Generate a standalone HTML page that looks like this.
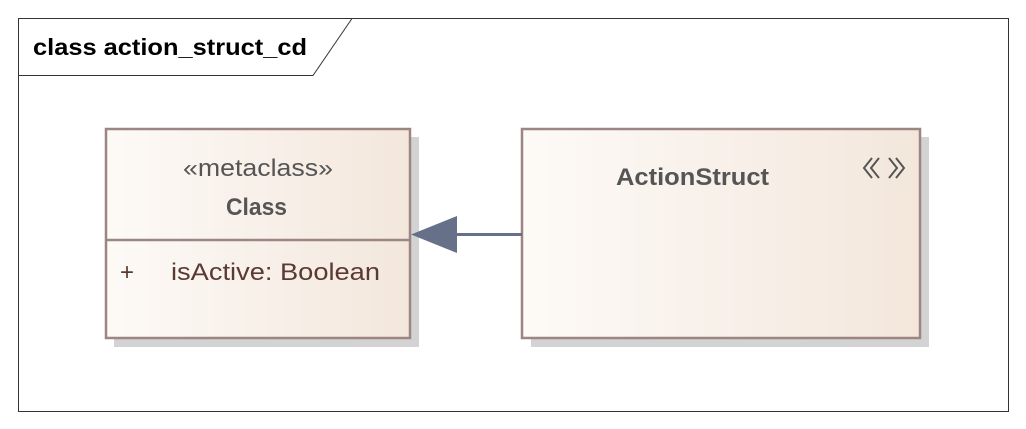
<!DOCTYPE html>
<html><head><meta charset="utf-8"><style>
body{margin:0;background:#fff;width:1026px;height:429px;overflow:hidden}
svg{display:block}
text{font-family:"Liberation Sans",sans-serif}
</style></head><body>
<svg width="1026" height="429" viewBox="0 0 1026 429">
<defs>
<linearGradient id="g" x1="0" x2="1" y1="0" y2="0">
<stop offset="0" stop-color="#fdfaf7"/><stop offset="1" stop-color="#f3e7dc"/>
</linearGradient>
</defs>
<rect x="18.5" y="18.5" width="990" height="393" fill="#fff" stroke="#333" stroke-width="1"/>
<path d="M18.5 75.5 H313 L352 18.5" fill="none" stroke="#333" stroke-width="1"/>
<text x="33" y="55" font-size="23" font-weight="bold" fill="#000" textLength="274" lengthAdjust="spacingAndGlyphs">class action_struct_cd</text>
<rect x="114" y="137" width="305" height="210" fill="#d3d3d3"/>
<rect x="531" y="137" width="398" height="210" fill="#d3d3d3"/>
<rect x="106" y="129" width="304" height="209" fill="url(#g)" stroke="#9c8582" stroke-width="2.5"/>
<line x1="106" y1="240" x2="410" y2="240" stroke="#9c8582" stroke-width="2.5"/>
<text x="183" y="176" font-size="24" fill="#555" textLength="150" lengthAdjust="spacingAndGlyphs">«metaclass»</text>
<text x="226" y="215" font-size="24" font-weight="bold" fill="#555" textLength="61" lengthAdjust="spacingAndGlyphs">Class</text>
<text x="120" y="280" font-size="24" fill="#5a3a32">+</text>
<text x="171" y="280" font-size="24" fill="#5a3a32" textLength="209" lengthAdjust="spacingAndGlyphs">isActive: Boolean</text>
<rect x="522" y="129" width="398" height="209" fill="url(#g)" stroke="#9c8582" stroke-width="2.5"/>
<text x="616" y="185" font-size="24" font-weight="bold" fill="#555" textLength="153" lengthAdjust="spacingAndGlyphs">ActionStruct</text>
<g fill="none" stroke="#555" stroke-width="2">
<polyline points="872,158 864,168 872,178"/><polyline points="879,158 871,168 879,178"/>
<polyline points="889,158 897,168 889,178"/><polyline points="896,158 904,168 896,178"/>
</g>
<line x1="456" y1="234.5" x2="522" y2="234.5" stroke="#667089" stroke-width="3"/>
<polygon points="411,234.5 457,216 457,253" fill="#667089"/>
</svg>
</body></html>
